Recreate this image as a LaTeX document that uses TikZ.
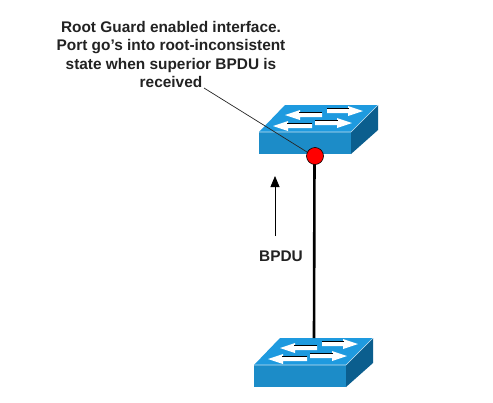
\documentclass[tikz,border=0pt]{standalone}
\usepackage{fontspec}
\setmainfont{Liberation Sans}
\usetikzlibrary{arrows.meta}
\definecolor{swfront}{HTML}{1C8CC8}
\definecolor{swtop}{HTML}{1E9ADF}
\definecolor{swside}{HTML}{0B5E8E}
\definecolor{txt}{HTML}{222222}
\newcommand{\swarr}[4]{% tip x, y, tail x, direction (+1 head points right)
  \fill[white] (#1,#2) -- ++(-#4*15,-5) -- ++(0,3) -- (#3,#2-2) -- (#3,#2+2) -- (#1-#4*15,#2+2) -- ++(0,3) -- cycle;
  \draw[black,line width=1.1pt] (#1-#4*14,#2-2.2) -- (#3,#2-2.2);
}
\tikzset{
  labeltext/.style={font=\bfseries\fontsize{15.4}{18.6}\selectfont,text=txt,align=center,inner sep=0pt},
  port/.style={circle,draw=black,line width=0.6pt,fill=red,minimum size=17pt,inner sep=0pt},
  netswitch/.pic={
    \fill[swfront] (0,0) rectangle (92,22);
    \fill[swtop] (0,0) -- (26,-27) -- (119,-27) -- (92,0) -- cycle;
    \fill[swside] (92,0) -- (119,-27) -- (119,-2) -- (92,22) -- cycle;
    \draw[white!75!swfront,line width=0.6pt] (0,0) -- (92,0) -- (119,-27);
    \swarr{26}{-17}{63}{-1}
    \swarr{104}{-21}{68}{1}
    \swarr{14}{-6}{53}{-1}
    \swarr{93}{-9}{56}{1}
  }
}
\begin{document}
\begin{tikzpicture}[x=1pt,y=-1pt]
\useasboundingbox[fill=white] (0,0) rectangle (493,402);
\pic at (259,132) {netswitch};
\pic at (254,365) {netswitch};
\coordinate (lowerport) at (314,338);
\coordinate (leaderstart) at (204,88);
\coordinate (arrowtail) at (275,236);
\coordinate (arrowhead) at (275,176);
\node[labeltext] (note) at (171,54.5) {Root Guard enabled interface.\\Port go’s into root-inconsistent\\state when superior BPDU is\\received};
\node[labeltext] (bpdu) at (281,256) {BPDU};
\draw[line width=2.6pt,black] (314.5,160) -- (lowerport);
\draw[line width=0.7pt,black!85] (leaderstart) -- (307,152);
\node[port] (rootport) at (315,156) {};
\draw[line width=0.8pt,-{Triangle[length=11pt,width=9pt]}] (arrowtail) -- (arrowhead);
\end{tikzpicture}
\end{document}
